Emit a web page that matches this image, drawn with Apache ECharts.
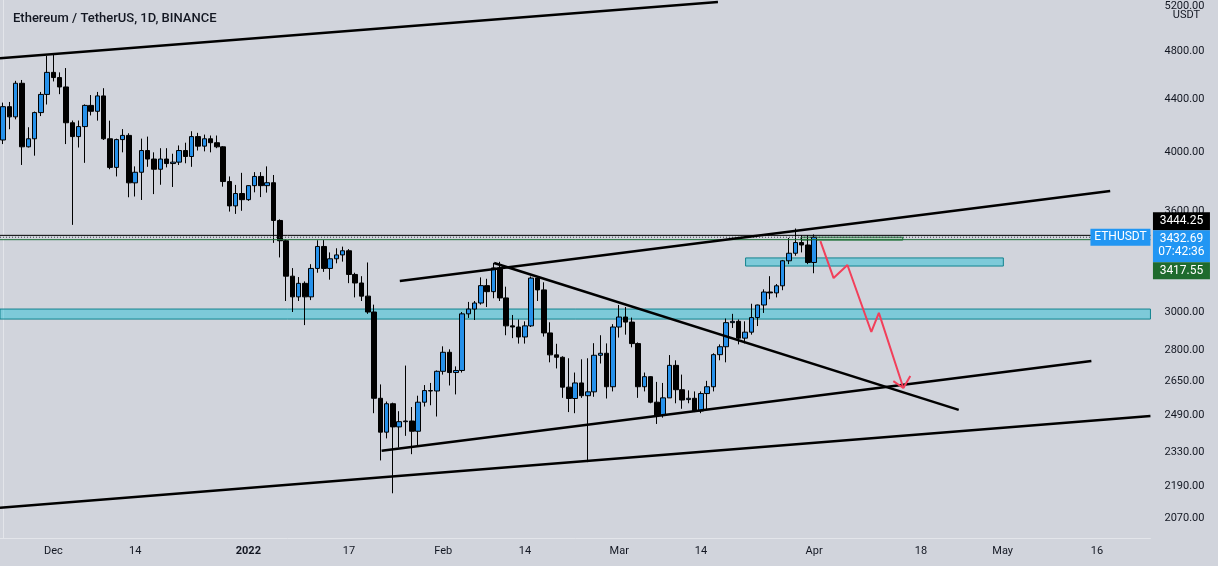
<!DOCTYPE html>
<html><head><meta charset="utf-8">
<script src="https://cdn.jsdelivr.net/npm/echarts@6/dist/echarts.min.js"></script>
<style>html,body{margin:0;padding:0;background:#d1d4dc;}#c{width:1218px;height:566px;}</style>
</head><body><div id="c"></div>
<script>
// ---- data ----
const startDate = '2021-11-23';
const categoryCount = 183;
// Nov 23 .. Apr 1 daily candles (price, USDT)
const opens = [
 4090,4343,4264,4530,4040,4099,4297,4440,
 4620,4577,4500,4219,4115,4190,4353,4307,4428,4099,3893,4093,4124,3786,3859,4013,3952,3880,3952,3920,3930,4013,3970,4115,4045,4099,4070,4040,3795,3632,3714,
 3673,3767,3830,3767,3787,3538,3411,3200,3083,3159,3083,3245,3376,3245,3302,3325,3350,3210,3161,3087,3000,2568,2416,2543,2439,2462,2465,2420,2550,2604,2602,
 2696,2790,2690,2700,2990,3016,3049,3146,3112,3248,3077,2926,2920,2868,2926,3189,3122,2889,2777,2765,2620,2567,2640,2580,2598,2775,2785,2622,
 2920,2973,2946,2834,2622,2670,2550,2490,2570,2725,2608,2562,2568,2510,2590,2622,2778,2818,2943,2950,2862,2893,2970,3038,3110,3105,3145,3290,3335,3400,3385,
 3280];
const highs = [
 4375,4380,4550,4557,4185,4305,4460,4760,
 4775,4620,4656,4236,4236,4361,4435,4460,4490,4235,4100,4171,4140,3900,4100,4115,4000,4030,4030,3990,4050,4070,4155,4143,4130,4123,4123,4045,3830,3772,3855,
 3769,3860,3860,3900,3840,3545,3420,3247,3195,3170,3270,3414,3415,3340,3365,3375,3360,3220,3200,3280,3040,2633,2553,2548,2509,2724,2528,2580,2630,2640,2700,
 2820,2805,2720,3000,3055,3060,3193,3185,3278,3284,3140,2984,2960,2950,3198,3200,3165,2945,2833,2770,2760,2690,2755,2760,2836,2877,2835,2935,
 3038,3027,2970,2840,2690,2672,2645,2640,2776,2750,2680,2605,2600,2600,2650,2785,2830,2965,2990,2960,2950,3045,3040,3125,3200,3155,3295,3428,3487,3445,3445,
 3450];
const lows = [
 4060,4170,4245,3910,4035,3976,4270,4360,
 4545,4442,4060,3510,4035,3925,4275,4235,4090,3880,3830,4000,3689,3694,3671,3897,3710,3773,3893,3758,3910,3922,3897,4013,4007,4000,4030,3760,3595,3580,3600,
 3665,3722,3690,3720,3398,3310,3060,3000,3060,2930,3065,3220,3225,3180,3275,3285,3160,3080,3060,2990,2500,2296,2389,2164,2350,2400,2322,2360,2530,2536,2485,
 2680,2628,2586,2690,2968,2957,3040,3027,3075,3060,2877,2862,2834,2834,2920,3060,2870,2740,2710,2570,2505,2500,2570,2289,2575,2734,2567,2600,
 2865,2880,2815,2570,2600,2545,2452,2480,2570,2545,2520,2545,2505,2500,2515,2600,2750,2740,2915,2830,2835,2880,2925,2995,3070,3080,3120,3270,3320,3340,3270,
 3217];
const closes = [
 4343,4264,4530,4040,4099,4297,4440,4620,
 4577,4500,4219,4115,4190,4353,4307,4428,4099,3893,4093,4124,3786,3859,4013,3952,3880,3952,3920,3930,4013,3970,4115,4045,4099,4070,4040,3795,3632,3714,3673,
 3767,3830,3767,3787,3538,3411,3200,3083,3159,3083,3245,3376,3245,3302,3325,3350,3210,3161,3087,3000,2568,2416,2543,2439,2462,2465,2420,2550,2604,2602,2696,
 2790,2690,2700,2990,3016,3049,3146,3112,3248,3077,2926,2920,2868,2926,3189,3122,2889,2777,2765,2620,2567,2640,2580,2598,2775,2785,2622,2920,
 2973,2946,2834,2622,2670,2550,2490,2570,2725,2608,2560,2568,2510,2590,2622,2778,2818,2943,2950,2862,2893,2970,3038,3110,3105,3145,3290,3335,3400,3385,3280,
 3432.69];
const yTicks = [5200,4800,4400,4000,3600,3200,3000,2800,2650,2490,2330,2190,2070];
const xTickDates = ['2021-12-01','2021-12-14','2022-01-01','2022-01-17','2022-02-01','2022-02-14','2022-03-01','2022-03-14','2022-04-01','2022-04-18','2022-05-01','2022-05-16'];
const xTickLabels = ['Dec','14','2022','17','Feb','14','Mar','14','Apr','18','May','16'];
// drawings: [candle index, price]
const trendLines = [
 [[-0.5,4739],[113.7,5244]],
 [[63.1,3172],[176.1,3731]],
 [[78.1,3277],[152.0,2515]],
 [[60.2,2336],[173.1,2747]],
 [[-0.5,2108],[182.5,2487]]
];
// zones: [x0, x1, priceLow, priceHigh]
const cyanZones = [[-0.5,182.5,2962,3016],[118.1,159.1,3259,3307]];
const greenZones = [[126.9,143.1,3415,3433]];
const arrowPath = [[130.0,3409],[132.1,3189],[134.3,3265],[138.1,2894],[139.3,2995],[143.2,2616]];
const arrowHead = [[141.6,2649],[143.2,2616],[144.3,2673]];
const lastPrice = 3432.69, upperLevel = 3444.25, lowerLevel = 3417.55;
const countdown = '07:42:36';

// ---- build ----
const L = Math.log;
const dates = [];
{ const d0 = new Date(startDate + 'T00:00:00Z');
  for (let i = 0; i < categoryCount; i++) { const d = new Date(d0.getTime() + i*86400000); dates.push(d.toISOString().slice(0,10)); } }
const xLabelMap = {}; xTickDates.forEach((d,i)=>xLabelMap[d]=xTickLabels[i]);
const candles = opens.map((o,i)=>[L(o),L(closes[i]),L(lows[i]),L(highs[i])]);
const yMin = L(3000) - 226/555, yMax = L(3000) + 312/555;
const toLn = pts => pts.map(p=>[p[0], L(p[1])]);
const font = 'Roboto, "Liberation Sans", sans-serif';

const rectSeries = (zones, fill, stroke, z) => ({
  type:'custom', xAxisIndex:1, yAxisIndex:0, z, silent:true, clip:true,
  data: zones.map(zn=>[zn[0],zn[1],L(zn[2]),L(zn[3])]),
  renderItem:(params, api)=>{
    const p0 = api.coord([api.value(0), api.value(3)]);
    const p1 = api.coord([api.value(1), api.value(2)]);
    return {type:'rect', shape:{x:p0[0], y:p0[1], width:p1[0]-p0[0], height:p1[1]-p0[1]},
      style:{fill, stroke, lineWidth:1}};
  }
});
const lineSeries = (pts, color, width, type, z) => ({
  type:'line', xAxisIndex:1, yAxisIndex:0, data: toLn(pts), symbol:'none', silent:true, z,
  lineStyle:{color, width, type: type||'solid'}, animation:false
});

const series = [
  rectSeries(cyanZones, 'rgba(0,188,212,0.40)', '#12838f', 1),
  rectSeries(greenZones, 'rgba(76,175,80,0.25)', '#1b6e35', 1),
  { type:'candlestick', xAxisIndex:0, yAxisIndex:0, data:candles, barWidth:5, z:2,
    itemStyle:{color:'#2691ea', color0:'#000000', borderColor:'#000000', borderColor0:'#000000', borderWidth:1} },
  lineSeries([[-0.5,upperLevel],[182.5,upperLevel]], '#000', 1, 'solid', 3),
  lineSeries([[-0.5,lastPrice],[182.5,lastPrice]], '#3a3e4a', 1, [1,2], 3),
  lineSeries([[-0.5,lowerLevel],[182.5,lowerLevel]], '#1b6e35', 1, 'solid', 3),
  ...trendLines.map(t=>lineSeries(t, '#000', 2.5, 'solid', 4)),
  lineSeries(arrowPath, '#f23f5a', 2, 'solid', 5),
  lineSeries(arrowHead, '#f23f5a', 2, 'solid', 5)
];

const chart = echarts.init(document.getElementById('c'), null, {renderer:'canvas'});
chart.setOption({
  animation:false,
  backgroundColor:'#d1d4dc',
  title:{text:'Ethereum / TetherUS, 1D, BINANCE', left:8, top:7,
    textStyle:{fontFamily:font, fontSize:13, fontWeight:500, color:'#131722'}},
  grid:{left:-2.45, right:67.55, top:0, bottom:28, containLabel:false},
  xAxis:[
    {type:'category', data:dates, boundaryGap:true,
     axisLine:{show:true, lineStyle:{color:'#e3e5ea', width:1}}, axisTick:{show:false}, splitLine:{show:false},
     axisLabel:{interval:(idx,val)=>Object.prototype.hasOwnProperty.call(xLabelMap,val),
       formatter:val=> val==='2022-01-01' ? '{b|2022}' : (xLabelMap[val]||''),
       rich:{b:{fontWeight:'bold', fontSize:11, fontFamily:font, color:'#131722'}},
       color:'#131722', fontSize:11, fontFamily:font, margin:8}},
    {type:'value', min:-0.5, max:categoryCount-0.5, show:false}
  ],
  yAxis:[{type:'value', position:'right', min:yMin, max:yMax, scale:true,
    axisLine:{show:true, lineStyle:{color:'#e3e5ea', width:1}}, axisTick:{show:false}, splitLine:{show:false},
    axisLabel:{customValues:yTicks.map(v=>L(v)), formatter:v=>Math.exp(v).toFixed(2),
      color:'#131722', fontSize:11, fontFamily:font, margin:14}}],
  series
});

// price-axis labels, placed from the axis scale
const yc = chart.convertToPixel({yAxisIndex:0}, L(lastPrice));
const gr = chart.convertToPixel({xAxisIndex:1}, categoryCount-0.5);
const bx = gr + 2.5, bw = 57;
const txt = (x,y,text,color,size) => ({type:'text', x, y, z:100,
  style:{text, fill:color, font:(size||12)+'px '+font, textAlign:'center', textVerticalAlign:'middle'}});
chart.setOption({graphic:[
  {type:'rect', shape:{x:gr-60, y:yc-8.5, width:60, height:17}, style:{fill:'#2196f3'}, z:99},
  txt(gr-30, yc, 'ETHUSDT', '#ffffff'),
  {type:'rect', shape:{x:bx, y:yc-25, width:bw, height:18}, style:{fill:'#000000'}, z:99},
  txt(bx+bw/2, yc-16, upperLevel.toFixed(2), '#ffffff'),
  {type:'rect', shape:{x:bx, y:yc-7, width:bw, height:32}, style:{fill:'#2196f3'}, z:99},
  txt(bx+bw/2, yc+2, lastPrice.toFixed(2), '#ffffff'),
  txt(bx+bw/2, yc+15, countdown, '#ffffff'),
  {type:'rect', shape:{x:bx, y:yc+25, width:bw, height:17}, style:{fill:'#1f6b2e'}, z:99},
  txt(bx+bw/2, yc+33.5, lowerLevel.toFixed(2), '#ffffff'),
  {type:'rect', shape:{x:gr+8, y:9, width:50, height:13}, style:{fill:'#d1d4dc'}, z:99},
  txt(gr+36, 15, 'USDT', '#131722', 11)
]});
</script>
</body></html>
